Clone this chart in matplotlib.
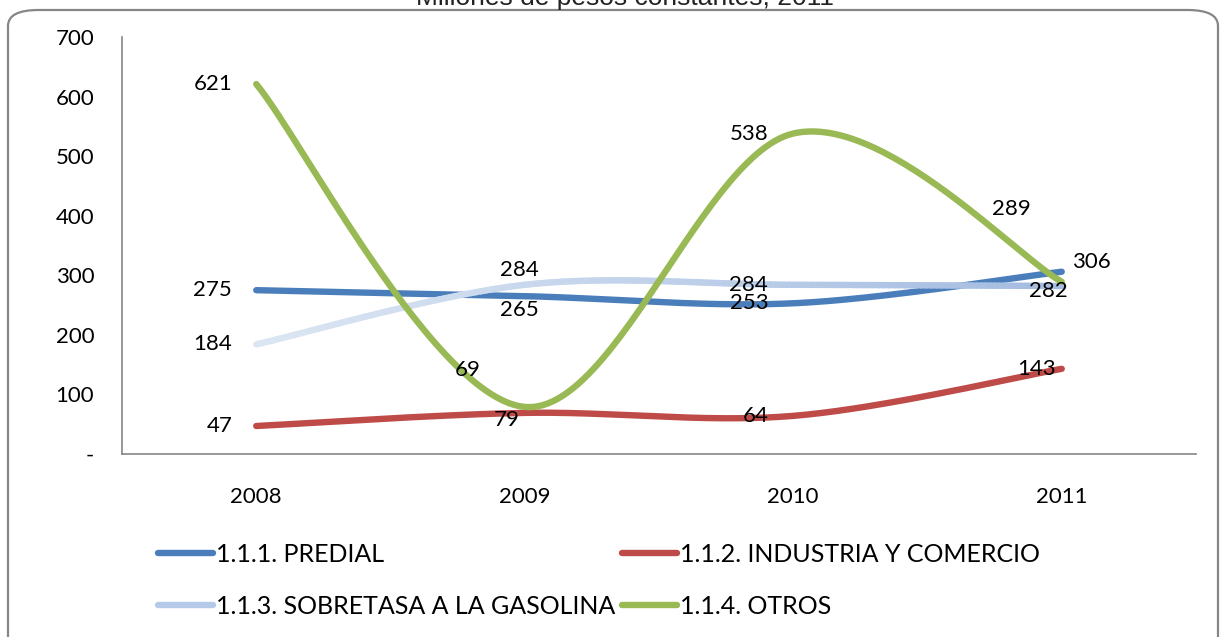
import numpy as np
import matplotlib.pyplot as plt
from matplotlib.patches import FancyBboxPatch
from matplotlib.collections import LineCollection
from matplotlib.colors import LinearSegmentedColormap
from matplotlib.lines import Line2D

plt.rcParams['font.family'] = ['Lato', 'DejaVu Sans']

# datos
years = ['2008', '2009', '2010', '2011']
predial = [275, 265, 253, 306]
industria = [47, 69, 64, 143]
sobretasa = [184, 284, 284, 282]
otros = [621, 79, 538, 289]
y_ticks = [0, 100, 200, 300, 400, 500, 600, 700]
y_tick_labels = ['-', '100', '200', '300', '400', '500', '600', '700']


def suavizar(y, n=60):
    # curva tipo Excel (bezier con puntos de control catmull-rom)
    p = np.column_stack([np.arange(len(y)), y]).astype(float)
    ext = np.vstack([p[0], p, p[-1]])
    t = np.linspace(0, 1, n)[:, None]
    out = []
    for i in range(len(p) - 1):
        p0, p3 = ext[i + 1], ext[i + 2]
        c1 = p0 + (ext[i + 2] - ext[i]) / 6
        c2 = p3 - (ext[i + 3] - ext[i + 1]) / 6
        seg = (1 - t)**3 * p0 + 3 * (1 - t)**2 * t * c1 + 3 * (1 - t) * t**2 * c2 + t**3 * p3
        out.append(seg)
    out = np.vstack(out)
    return out[:, 0], out[:, 1]


fig = plt.figure(figsize=(12.22, 6.37), dpi=100)
W, H = 1222, 637

# marco redondeado
marco = FancyBboxPatch((8 / W, -60 / H), 1210 / W, (637 - 10 + 60) / H,
                       boxstyle='round,pad=0,rounding_size=0.025',
                       transform=fig.transFigure, facecolor='none',
                       edgecolor='#868686', linewidth=1.6, zorder=-1)
fig.patches.append(marco)

fig.text(625 / W, 1 - 5 / H, 'Millones de pesos constantes, 2011',
         ha='center', va='baseline', fontsize=19, color='#222222',
         family='Liberation Sans')

ax = fig.add_axes([122 / W, 1 - 454 / H, (1196 - 122) / W, (454 - 37) / H])
ax.patch.set_alpha(0)

series = [
    ('1.1.1. PREDIAL', predial, '#4A7EBB'),
    ('1.1.2. INDUSTRIA Y COMERCIO', industria, '#BE4B48'),
    ('1.1.3. SOBRETASA A LA GASOLINA', sobretasa, '#A9BFE4'),
    ('1.1.4. OTROS', otros, '#98B954'),
]
lw = 4.6
lineas = {}
for nombre, vals, color in series:
    xs, ys = suavizar(vals)
    if nombre.startswith('1.1.3'):
        # linea con degradado, como en el original
        pts = np.column_stack([xs, ys]).reshape(-1, 1, 2)
        segs = np.concatenate([pts[:-1], pts[1:]], axis=1)
        cmap = LinearSegmentedColormap.from_list('deg', ['#DCE6F3', '#A4BCE1'])
        lc = LineCollection(segs, cmap=cmap, linewidth=lw, capstyle='round')
        lc.set_array(xs[:-1])
        ax.add_collection(lc)
        lineas[nombre] = Line2D([], [], color='#B5C9E8', linewidth=lw,
                                solid_capstyle='round')
    else:
        ln, = ax.plot(xs, ys, color=color, linewidth=lw, solid_capstyle='round',
                      label=nombre)
        lineas[nombre] = ln

# etiquetas de datos: desplazamientos en pixeles (dx, dy, alineacion)
pos_predial = [(-24, 0, 'right'), (-5, -14, 'center'), (-25, 0, 'right'), (30, 10, 'center')]
pos_industria = [(-24, 0, 'right'), (-57, 43, 'center'), (-25, 0, 'right'), (-25, 0, 'center')]
pos_sobretasa = [(-24, 0, 'right'), (-5, 15, 'center'), (-25, 0, 'right'), (-13, -5, 'center')]
pos_otros = [(-24, 0, 'right'), (-18, -13, 'center'), (-25, 0, 'right'), (-50, 73, 'center')]
for (nombre, vals, color), pos in zip(series, [pos_predial, pos_industria, pos_sobretasa, pos_otros]):
    for i, (v, (dx, dy, ha)) in enumerate(zip(vals, pos)):
        ax.annotate(str(v), (i, v), xytext=(dx, dy), textcoords='offset pixels',
                    ha=ha, va='center', fontsize=16, color='black')

ax.set_xlim(-0.5, 3.5)
ax.set_ylim(0, 700)
ax.set_xticks(range(len(years)))
ax.set_xticklabels(years)
ax.set_yticks(y_ticks)
ax.set_yticklabels(y_tick_labels)
ax.tick_params(axis='both', labelsize=16, colors='black', length=0)
ax.tick_params(axis='x', pad=24)
ax.tick_params(axis='y', pad=20)
for s in ['top', 'right']:
    ax.spines[s].set_visible(False)
for s in ['left', 'bottom']:
    ax.spines[s].set_color('#868686')
    ax.spines[s].set_linewidth(1.2)

orden = ['1.1.1. PREDIAL', '1.1.3. SOBRETASA A LA GASOLINA',
         '1.1.2. INDUSTRIA Y COMERCIO', '1.1.4. OTROS']
fig.legend([lineas[k] for k in orden], orden, ncol=2, frameon=False,
           loc='upper left', bbox_to_anchor=(158 / W, 1 - 543 / H),
           fontsize=18, handlelength=2.2, handletextpad=0.1,
           columnspacing=0.3, labelspacing=1.15, borderpad=0, borderaxespad=0)

fig.savefig('out.png', dpi=100)
